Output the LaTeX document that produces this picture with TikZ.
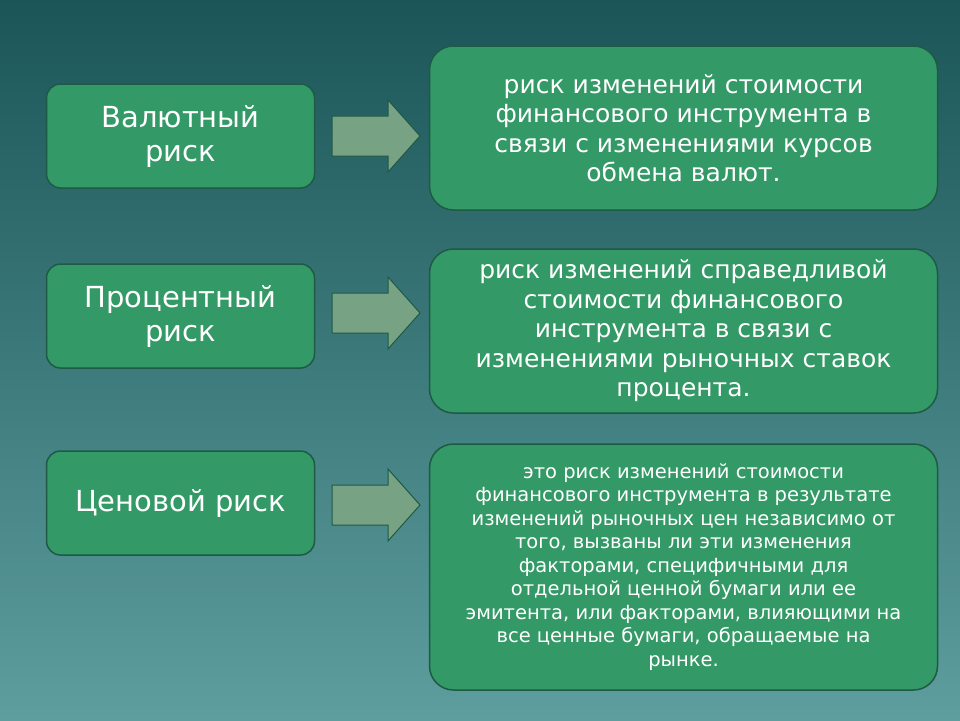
\documentclass[tikz,border=0pt]{standalone}
\usepackage{fontspec}
\setmainfont{DejaVu Sans}
\definecolor{boxg}{HTML}{339966}
\definecolor{boxd}{HTML}{1E5A46}
\definecolor{arr}{HTML}{77A283}
\definecolor{bgtop}{HTML}{1B5558}
\definecolor{bgbot}{HTML}{5E9E9E}
\begin{document}
\begin{tikzpicture}[x=1pt,y=-1pt,
  box/.style={draw=boxd,line width=1.5pt,fill=boxg,rounded corners=14pt,text=white,align=center,inner sep=0pt},
  rbox/.style={box,rounded corners=24pt},
  barrow/.style={draw=boxd,line width=1pt,fill=arr}]
\shade[top color=bgtop,bottom color=bgbot] (0,0) rectangle (960,720);
\useasboundingbox (0,0) rectangle (960,720);
\node[box,minimum width=268pt,minimum height=104pt,font=\fontsize{29}{34}\selectfont] (a) at (180.5,136) {Валютный\\риск};
\node[box,minimum width=268pt,minimum height=104pt,font=\fontsize{29}{34}\selectfont] (b) at (180.5,316) {Процентный\\риск};
\node[box,minimum width=268pt,minimum height=104pt,font=\fontsize{29}{34}\selectfont] (c) at (180.5,503) {Ценовой риск};
\node[rbox,minimum width=508pt,minimum height=164pt,font=\fontsize{25}{29.5}\selectfont] (d) at (683.5,128) {риск изменений стоимости\\финансового инструмента в\\связи с изменениями курсов\\обмена валют.};
\node[rbox,minimum width=508pt,minimum height=164pt,font=\fontsize{25}{29.5}\selectfont] (e) at (683.5,331) {риск изменений справедливой\\стоимости финансового\\инструмента в связи с\\изменениями рыночных ставок\\процента.};
\node[rbox,minimum width=508pt,minimum height=246pt,font=\fontsize{19.5}{23.5}\selectfont] (f) at (683.5,567) {это риск изменений стоимости\\финансового инструмента в результате\\изменений рыночных цен независимо от\\того, вызваны ли эти изменения\\факторами, специфичными для\\отдельной ценной бумаги или ее\\эмитента, или факторами, влияющими на\\все ценные бумаги, обращаемые на\\рынке.};
\foreach \y in {136,313,505}{
  \draw[barrow] (332,\y-20) -- (388,\y-20) -- (388,\y-36) -- (420,\y) -- (388,\y+36) -- (388,\y+20) -- (332,\y+20) -- cycle;
}
\end{tikzpicture}
\end{document}
